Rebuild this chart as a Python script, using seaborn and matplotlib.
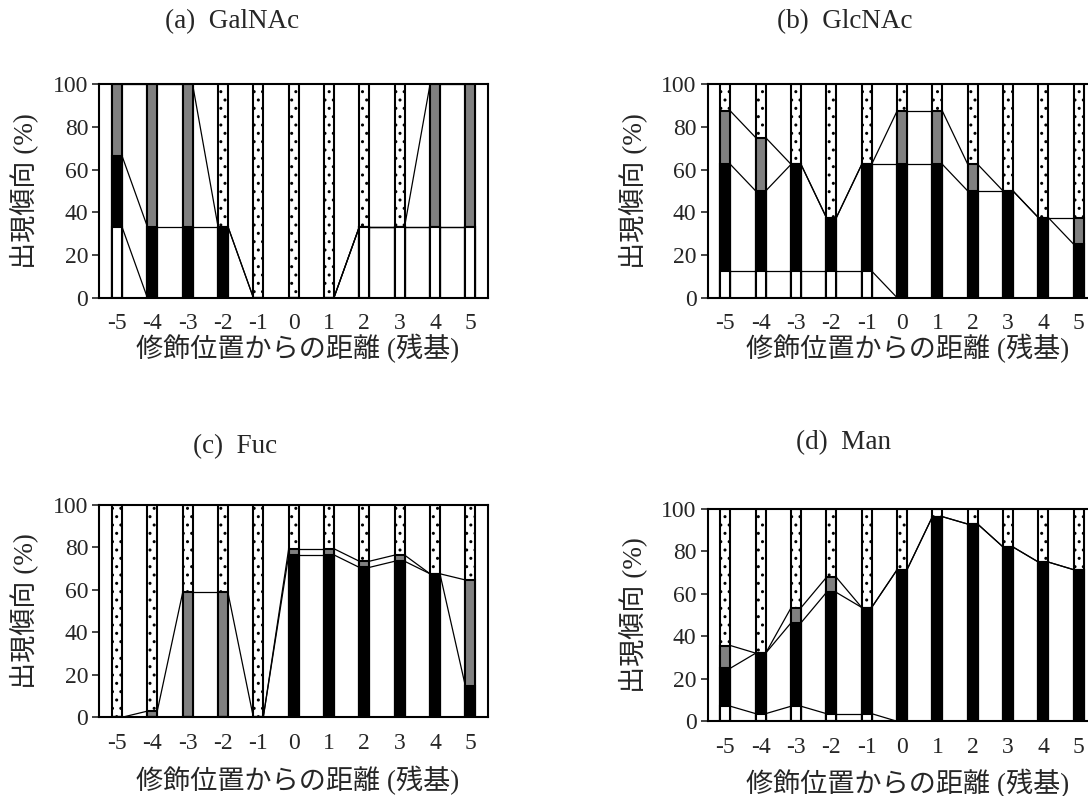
import numpy as np
import pandas as pd
import matplotlib
matplotlib.use("Agg")
import matplotlib.pyplot as plt
import seaborn as sns

# distance from the modification site (residues)
positions = ['-5', '-4', '-3', '-2', '-1', '0', '1', '2', '3', '4', '5']

# segment heights (%), bottom to top: white, black, gray, dotted
galnac_white = [33.3, 0, 0, 0, 0, 0, 0, 33.3, 33.3, 33.3, 33.3]
galnac_black = [33.3, 33.3, 33.3, 33.3, 0, 0, 0, 0, 0, 0, 0]
galnac_gray = [33.4, 66.7, 66.7, 0, 0, 0, 0, 0, 0, 66.7, 66.7]
galnac_dot = [0, 0, 0, 66.7, 100, 100, 100, 66.7, 66.7, 0, 0]

glcnac_white = [12.5, 12.5, 12.5, 12.5, 12.5, 0, 0, 0, 0, 0, 0]
glcnac_black = [50, 37.5, 50, 25, 50, 62.5, 62.5, 50, 50, 37.5, 25]
glcnac_gray = [25, 25, 0, 0, 0, 25, 25, 12.5, 0, 0, 12.5]
glcnac_dot = [12.5, 25, 37.5, 62.5, 37.5, 12.5, 12.5, 37.5, 50, 62.5, 62.5]

fuc_white = [0, 0, 0, 0, 0, 0, 0, 0, 0, 0, 0]
fuc_black = [0, 0, 0, 0, 0, 76.5, 76.5, 70.6, 73.5, 67.6, 14.7]
fuc_gray = [0, 2.9, 58.8, 58.8, 0, 2.9, 2.9, 2.9, 2.9, 0, 50.0]
fuc_dot = [100, 97.1, 41.2, 41.2, 100, 20.6, 20.6, 26.5, 23.6, 32.4, 35.3]

man_white = [7.1, 3.6, 7.1, 3.6, 3.6, 0, 0, 0, 0, 0, 0]
man_black = [17.9, 28.5, 39.3, 57.1, 50.0, 71.4, 96.4, 92.9, 82.1, 75.0, 71.4]
man_gray = [10.7, 0, 7.1, 7.1, 0, 0, 0, 0, 0, 0, 0]
man_dot = [64.3, 67.9, 46.5, 32.2, 46.4, 28.6, 3.6, 7.1, 17.9, 25.0, 28.6]

titles = ['(a)  GalNAc', '(b)  GlcNAc', '(c)  Fuc', '(d)  Man']
xlabel = '修飾位置からの距離 (残基)'
ylabel = '出現傾向 (%)'

sns.set_style('white')
plt.rcParams['font.family'] = ['Liberation Serif', 'Noto Sans CJK JP', 'DejaVu Sans']
plt.rcParams['hatch.linewidth'] = 1.0

BAR_W = 0.28
W, H = 1088, 796


def draw_panel(ax, white, black, gray, dot):
    cum = np.cumsum(np.array([white, black, gray, dot], dtype=float), axis=0)
    cum[3] = np.clip(cum[3], 0, 100)
    styles = [('white', ''), ('black', ''), ('#808080', ''), ('white', '..')]
    # draw tallest layer first so lower segments sit on top
    for k in reversed(range(4)):
        df = pd.DataFrame({'pos': positions, 'val': cum[k]})
        fc, hatch = styles[k]
        sns.barplot(data=df, x='pos', y='val', order=positions, color=fc,
                    saturation=1, width=BAR_W, edgecolor='black', linewidth=1.5,
                    hatch=hatch, errorbar=None, ax=ax)
    # series lines joining the segment tops
    for k in range(3):
        for i in range(len(positions) - 1):
            ax.plot([i + BAR_W / 2, i + 1 - BAR_W / 2], [cum[k][i], cum[k][i + 1]],
                    color='black', lw=0.9, solid_capstyle='butt')
    ax.set_xlim(-0.5, 10.5)
    ax.set_ylim(0, 100)
    ax.set_yticks(range(0, 101, 20))
    ax.set_xlabel('')
    ax.set_ylabel('')
    ax.tick_params(axis='x', length=0, pad=11, labelsize=17)
    ax.tick_params(axis='y', direction='out', length=5, width=1.2, pad=3,
                   labelsize=17, left=True)
    for sp in ax.spines.values():
        sp.set_visible(True)
        sp.set_color('black')
        sp.set_linewidth(1.5)


fig = plt.figure(figsize=(W / 100, H / 100), dpi=100)

# axes boxes in pixels: left, top(100), bottom(0)
boxes = [(99.3, 84.3, 297.7), (707.7, 84.3, 297.7),
         (99.3, 505.0, 717.3), (707.7, 509.0, 721.3)]
ax_w = 388.7
data = [(galnac_white, galnac_black, galnac_gray, galnac_dot),
        (glcnac_white, glcnac_black, glcnac_gray, glcnac_dot),
        (fuc_white, fuc_black, fuc_gray, fuc_dot),
        (man_white, man_black, man_gray, man_dot)]
title_pos = [(232, 22), (845, 22), (235, 447), (843, 443)]
xlab_pos = [(298, 348), (908, 348), (298, 780), (908, 783)]
ylab_pos = [(24, 191), (633, 191), (24, 611), (633, 615)]

for n in range(4):
    left, top, bottom = boxes[n]
    ax = fig.add_axes([left / W, 1 - bottom / H, ax_w / W, (bottom - top) / H])
    draw_panel(ax, *data[n])
    tx, ty = title_pos[n]
    fig.text(tx / W, 1 - ty / H, titles[n], ha='center', va='center', fontsize=19.5)
    lx, ly = xlab_pos[n]
    fig.text(lx / W, 1 - ly / H, xlabel, ha='center', va='center', fontsize=19.5)
    yx, yy = ylab_pos[n]
    fig.text(yx / W, 1 - yy / H, ylabel, ha='center', va='center', fontsize=19.5,
             rotation=90)

fig.savefig('out.png', dpi=100)
